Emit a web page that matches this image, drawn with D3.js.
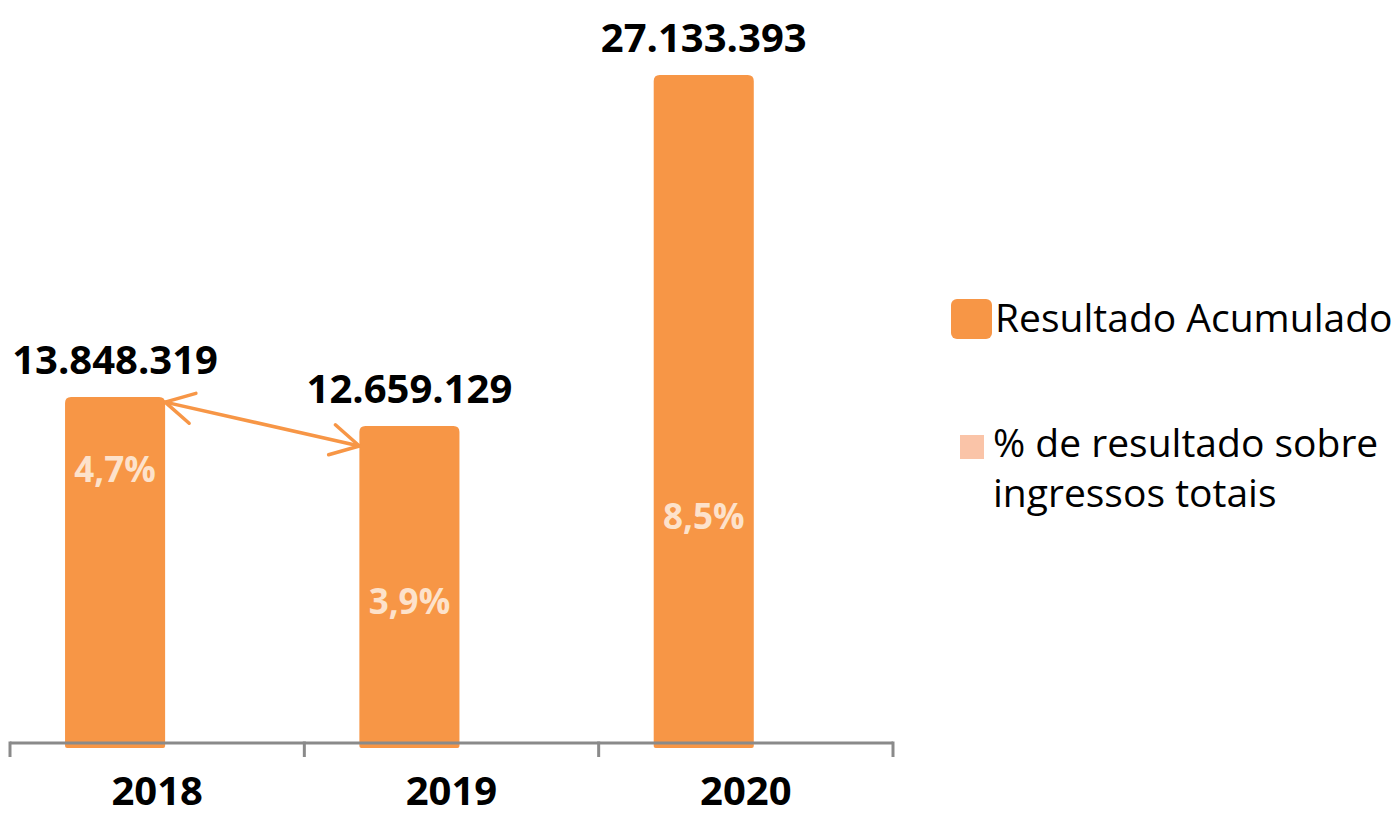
<!DOCTYPE html>
<html>
<head>
<meta charset="utf-8">
<script src="https://cdn.jsdelivr.net/npm/d3@7"></script>
<style>
  body { margin: 0; background: #fff; }
  svg { display: block; font-family: "Open Sans", sans-serif; }
</style>
</head>
<body>
<svg id="chart" width="1400" height="817"></svg>
<script>
// data
const years = ["2018", "2019", "2020"];
const resultado = [13848319, 12659129, 27133393];
const pctLabels = ["4,7%", "3,9%", "8,5%"];
const legendLabels = ["Resultado Acumulado", "% de resultado sobre ingressos totais"];

// layout
const pctLabelY = [468, 600, 515]; // label centres placed by hand in the original
const orange = "#f79646";
const peach = "#fde2cb";
const legendPeach = "#fac4a8";
const axisGrey = "#8a8a8a";

const svg = d3.select("#chart");

const x = d3.scaleBand()
  .domain(years)
  .range([10, 893]);

const y = d3.scaleLinear()
  .domain([-500000, d3.max(resultado)])
  .range([745, 75]);

const bw = x.bandwidth();
const barX = d => x(d) + bw * 0.187;
const barW = bw * 0.34;

// bars, rounded top corners
const bars = svg.append("g");
years.forEach((yr, i) => {
  const x0 = barX(yr), x1 = x0 + barW;
  const top = y(resultado[i]), bot = y.range()[0] + 3;
  const r = 6;
  const p = d3.path();
  p.moveTo(x0, bot - 2);
  p.lineTo(x0, top + r);
  p.quadraticCurveTo(x0, top, x0 + r, top);
  p.lineTo(x1 - r, top);
  p.quadraticCurveTo(x1, top, x1, top + r);
  p.lineTo(x1, bot - 2);
  p.quadraticCurveTo(x1, bot, x1 - 2, bot);
  p.lineTo(x0 + 2, bot);
  p.quadraticCurveTo(x0, bot, x0, bot - 2);
  p.closePath();
  bars.append("path").attr("d", p.toString()).attr("fill", orange);
});

// axis
const axis = svg.append("g").attr("transform", "translate(0,743)");
axis.append("line")
  .attr("x1", x.range()[0]).attr("x2", x.range()[1])
  .attr("stroke", axisGrey).attr("stroke-width", 3);
const tickXs = years.map(d => x(d)).concat([x.range()[1]]);
axis.selectAll("line.tick")
  .data(tickXs)
  .join("line")
  .attr("class", "tick")
  .attr("x1", d => d).attr("x2", d => d)
  .attr("y1", -1.5).attr("y2", 14)
  .attr("stroke", axisGrey).attr("stroke-width", 3);

svg.append("g").selectAll("text")
  .data(years)
  .join("text")
  .attr("x", d => x(d) + bw / 2)
  .attr("y", 805)
  .attr("text-anchor", "middle")
  .attr("font-size", 40)
  .attr("font-weight", 700)
  .attr("fill", "#000")
  .text(d => d);

// value labels
const fmt = v => d3.format(",")(v).replace(/,/g, ".");
svg.append("g").selectAll("text")
  .data(years)
  .join("text")
  .attr("x", d => barX(d) + barW / 2)
  .attr("y", (d, i) => y(resultado[i]) - 23)
  .attr("text-anchor", "middle")
  .attr("font-size", 40)
  .attr("font-weight", 700)
  .attr("fill", "#000")
  .text((d, i) => fmt(resultado[i]));

// percentage labels
svg.append("g").selectAll("text")
  .data(years)
  .join("text")
  .attr("x", d => barX(d) + barW / 2)
  .attr("y", (d, i) => pctLabelY[i])
  .attr("dominant-baseline", "central")
  .attr("text-anchor", "middle")
  .attr("font-size", 35)
  .attr("font-weight", 700)
  .attr("fill", peach)
  .text((d, i) => pctLabels[i]);

// double arrow between 2018 and 2019
const ax0 = barX(years[0]) + barW, ay0 = y(resultado[0]) + 5;
const ax1 = barX(years[1]), ay1 = y(resultado[1]) + 20;
const ang = Math.atan2(ay1 - ay0, ax1 - ax0);
const head = (tx, ty, dir) => {
  const a = ang + (dir < 0 ? Math.PI : 0);
  const L = 32, w = 0.5;
  return [
    [tx - L * Math.cos(a - w), ty - L * Math.sin(a - w)],
    [tx, ty],
    [tx - L * Math.cos(a + w), ty - L * Math.sin(a + w)]
  ];
};
const arrow = svg.append("g")
  .attr("fill", "none")
  .attr("stroke", orange)
  .attr("stroke-width", 3.5)
  .attr("stroke-linecap", "round")
  .attr("stroke-linejoin", "round");
arrow.append("line")
  .attr("x1", ax0).attr("y1", ay0).attr("x2", ax1).attr("y2", ay1);
arrow.append("path").attr("d", d3.line()(head(ax0, ay0, -1)));
arrow.append("path").attr("d", d3.line()(head(ax1, ay1, 1)));

// legend
const lg = svg.append("g");
lg.append("rect")
  .attr("x", 951).attr("y", 299).attr("width", 41).attr("height", 40)
  .attr("rx", 6).attr("fill", orange);
lg.append("text")
  .attr("x", 995).attr("y", 332)
  .attr("font-size", 39)
  .attr("fill", "#000")
  .text(legendLabels[0]);
lg.append("rect")
  .attr("x", 960).attr("y", 435).attr("width", 24).attr("height", 24)
  .attr("fill", legendPeach);
const t2 = lg.append("text")
  .attr("font-size", 39)
  .attr("fill", "#000");
t2.append("tspan").attr("x", 993).attr("y", 457).text("% de resultado sobre");
t2.append("tspan").attr("x", 993).attr("y", 507).text("ingressos totais");
</script>
</body>
</html>
